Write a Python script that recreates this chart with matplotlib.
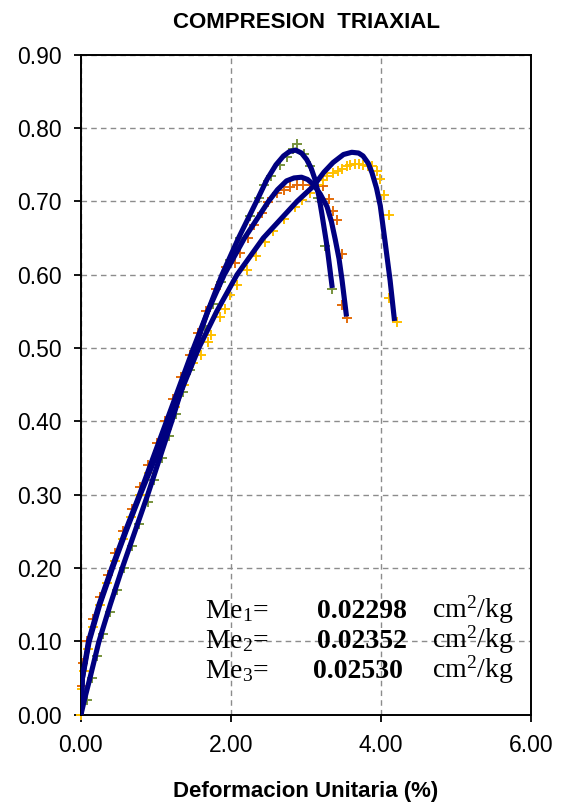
import matplotlib
matplotlib.use("Agg")
import matplotlib.pyplot as plt

plt.rcParams["font.family"] = ["Liberation Sans", "DejaVu Sans"]
plt.rcParams["mathtext.fontset"] = "custom"
plt.rcParams["mathtext.rm"] = "Liberation Serif"
plt.rcParams["mathtext.it"] = "Liberation Serif:italic"
plt.rcParams["mathtext.bf"] = "Liberation Serif:bold"

# ---- Measured points (strain %, stress) ----
strain_1 = [0.00, 0.08, 0.15, 0.22, 0.30, 0.39, 0.48, 0.58, 0.68, 0.78, 0.89, 0.98,
            1.08, 1.18, 1.27, 1.36, 1.45, 1.54, 1.66, 1.76, 1.87, 1.99, 2.12, 2.26,
            2.37, 2.44, 2.54, 2.65, 2.74, 2.82, 2.88, 2.97, 3.05, 3.16, 3.25, 3.34]
stress_1 = [0.000, 0.020, 0.050, 0.080, 0.110, 0.140, 0.170, 0.200, 0.230, 0.260, 0.290, 0.320,
            0.350, 0.380, 0.410, 0.440, 0.470, 0.500, 0.530, 0.560, 0.590, 0.620, 0.650, 0.680,
            0.705, 0.722, 0.735, 0.750, 0.760, 0.772, 0.778, 0.765, 0.748, 0.705, 0.639, 0.581]

strain_2 = [0.00, 0.01, 0.03, 0.08, 0.16, 0.25, 0.36, 0.46, 0.56, 0.68, 0.79, 0.90,
            1.01, 1.12, 1.23, 1.34, 1.45, 1.56, 1.67, 1.80, 1.94, 2.05, 2.12, 2.23,
            2.31, 2.41, 2.50, 2.62, 2.70, 2.79, 2.88, 2.96, 3.05, 3.14, 3.23, 3.30,
            3.36, 3.41, 3.48, 3.48, 3.54]
stress_2 = [0.000, 0.040, 0.070, 0.100, 0.130, 0.160, 0.190, 0.220, 0.250, 0.280, 0.310, 0.340,
            0.370, 0.400, 0.430, 0.460, 0.490, 0.520, 0.550, 0.580, 0.610, 0.616, 0.630, 0.650,
            0.668, 0.684, 0.699, 0.712, 0.716, 0.719, 0.722, 0.723, 0.723, 0.722, 0.721, 0.703,
            0.687, 0.674, 0.628, 0.559, 0.541]

strain_3 = [0.00, 0.01, 0.04, 0.09, 0.16, 0.25, 0.35, 0.45, 0.56, 0.67, 0.79, 0.91,
            1.03, 1.15, 1.26, 1.37, 1.49, 1.60, 1.70, 1.74, 1.85, 1.92, 1.99, 2.08,
            2.21, 2.33, 2.45, 2.56, 2.70, 2.85, 2.95, 3.05, 3.15, 3.22, 3.28, 3.36,
            3.42, 3.48, 3.54, 3.59, 3.65, 3.70, 3.76, 3.82, 3.88, 3.94, 3.99, 4.04,
            4.10, 4.10, 4.21]
stress_3 = [0.000, 0.035, 0.060, 0.090, 0.120, 0.150, 0.180, 0.210, 0.240, 0.270, 0.300, 0.330,
            0.360, 0.390, 0.420, 0.450, 0.480, 0.490, 0.509, 0.518, 0.542, 0.554, 0.572, 0.586,
            0.606, 0.626, 0.645, 0.660, 0.676, 0.692, 0.702, 0.712, 0.722, 0.729, 0.735, 0.739,
            0.742, 0.744, 0.748, 0.750, 0.751, 0.751, 0.749, 0.748, 0.748, 0.741, 0.730, 0.709,
            0.681, 0.568, 0.535]

# ---- Smoothed trend curves ----
fit_strain_1 = [0.00, 0.05, 0.12, 0.24, 0.39, 0.55, 0.72, 0.89, 1.05, 1.21, 1.36, 1.52,
                1.69, 1.88, 2.10, 2.34, 2.48, 2.60, 2.70, 2.78, 2.86, 2.94, 3.01, 3.07,
                3.12, 3.17, 3.21, 3.28, 3.35]
fit_stress_1 = [0.000, 0.022, 0.050, 0.100, 0.150, 0.200, 0.250, 0.300, 0.350, 0.400, 0.450, 0.500,
                0.550, 0.600, 0.650, 0.700, 0.730, 0.750, 0.762, 0.768, 0.770, 0.766, 0.757, 0.745,
                0.730, 0.708, 0.684, 0.639, 0.582]

fit_strain_2 = [0.00, 0.02, 0.10, 0.24, 0.41, 0.59, 0.78, 0.96, 1.14, 1.32, 1.50, 1.69,
                1.91, 2.18, 2.50, 2.62, 2.74, 2.84, 2.94, 3.02, 3.10, 3.19, 3.28, 3.34,
                3.39, 3.44, 3.48, 3.54]
fit_stress_2 = [0.000, 0.050, 0.100, 0.150, 0.200, 0.250, 0.300, 0.350, 0.400, 0.450, 0.500, 0.550,
                0.600, 0.650, 0.700, 0.716, 0.728, 0.732, 0.733, 0.730, 0.723, 0.710, 0.693, 0.672,
                0.648, 0.622, 0.593, 0.543]

fit_strain_3 = [0.00, 0.02, 0.11, 0.25, 0.42, 0.60, 0.79, 0.99, 1.18, 1.37, 1.57, 1.81,
                2.08, 2.43, 2.88, 3.10, 3.24, 3.36, 3.50, 3.61, 3.70, 3.76, 3.83, 3.88,
                3.94, 3.99, 4.05, 4.12, 4.18]
fit_stress_3 = [0.000, 0.050, 0.100, 0.150, 0.200, 0.250, 0.300, 0.350, 0.400, 0.450, 0.500, 0.550,
                0.600, 0.650, 0.700, 0.721, 0.740, 0.753, 0.764, 0.767, 0.766, 0.762, 0.752, 0.739,
                0.718, 0.694, 0.648, 0.593, 0.537]

marker_colors = ["#77933C", "#E46C0A", "#FFC000"]
fit_color = "#000080"

me_labels = ["Me$_1$=", "Me$_2$=", "Me$_3$="]
me_values = ["0.02298", "0.02352", "0.02530"]
me_unit = "cm$^2$/kg"

x_ticks = [0.0, 2.0, 4.0, 6.0]
y_ticks = [0.0, 0.1, 0.2, 0.3, 0.4, 0.5, 0.6, 0.7, 0.8, 0.9]

fig = plt.figure(figsize=(5.62, 8.05), dpi=100)
ax = fig.add_axes([0.144, 0.112, 0.801, 0.820])

for sx, sy, c in zip([strain_1, strain_2, strain_3],
                     [stress_1, stress_2, stress_3], marker_colors):
    ax.plot(sx, sy, linestyle="none", marker="+", markersize=7,
            markeredgewidth=1.4, color=c, zorder=2, clip_on=False)

for fx, fy in zip([fit_strain_1, fit_strain_2, fit_strain_3],
                  [fit_stress_1, fit_stress_2, fit_stress_3]):
    ax.plot(fx, fy, color=fit_color, linewidth=3.7, solid_capstyle="butt",
            solid_joinstyle="round", zorder=3)

ax.set_xlim(0, 6)
ax.set_ylim(0, 0.9)
ax.set_xticks(x_ticks)
ax.set_yticks(y_ticks)
ax.set_xticklabels([f"{v:.2f}" for v in x_ticks])
ax.set_yticklabels([f"{v:.2f}" for v in y_ticks])
ax.tick_params(axis="both", direction="out", length=5, width=1.3,
               labelsize=16.5, pad=9, colors="black")
ax.tick_params(top=False, right=False)

ax.grid(True, color="#8c8c8c", linestyle=(0, (4, 3)), linewidth=1.0, zorder=0)
ax.set_axisbelow(True)
for s in ax.spines.values():
    s.set_linewidth(1.4)
    s.set_color("black")

ax.set_title("COMPRESION  TRIAXIAL", fontsize=16, fontweight="bold", pad=19)
ax.set_xlabel("Deformacion Unitaria (%)", fontsize=16, fontweight="bold", labelpad=17)

# Modulus annotation block
row_y = [0.1323, 0.0914, 0.0505]
val_x = [3.747, 3.747, 3.690]
for lab, val, y, vx in zip(me_labels, me_values, row_y, val_x):
    ax.text(1.65, y, lab, fontsize=20, family="Liberation Serif",
            ha="left", va="baseline", zorder=4)
    ax.text(vx, y, val, fontsize=20, family="Liberation Serif", fontweight="bold",
            ha="center", va="baseline", zorder=4)
    ax.text(4.68, y, me_unit, fontsize=20, family="Liberation Serif",
            ha="left", va="baseline", zorder=4)

fig.savefig("out.png", dpi=100)
